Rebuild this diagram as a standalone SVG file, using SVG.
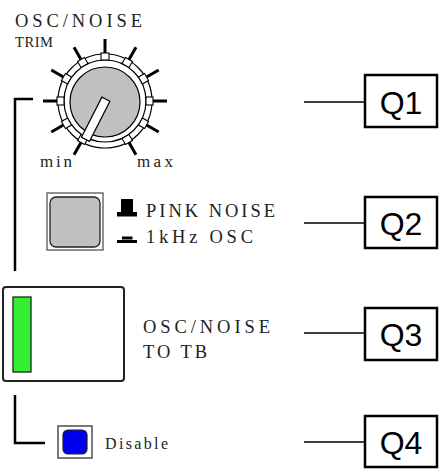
<svg xmlns="http://www.w3.org/2000/svg" width="445" height="474" viewBox="0 0 445 474">
<style>
.lbl{font-family:"Liberation Serif",serif;fill:#222}
.q{font-family:"Liberation Sans",Arial,sans-serif;font-size:32px;fill:#000;text-anchor:middle}
.qbox{fill:#fff;stroke:#000;stroke-width:2.5}
.conn{fill:none;stroke:#000;stroke-width:1.3}
.wire{fill:none;stroke:#000;stroke-width:2.5}
.tick{stroke:#000;stroke-width:3}
.blk{fill:#fff;stroke:#000;stroke-width:1.1}
</style>
<rect width="445" height="474" fill="#fff"/>
<g id="connectors">
  <polyline class="wire" points="33,99 15,99 15,271"/>
  <polyline class="wire" points="15,395 15,443 45,443"/>
  <line class="conn" x1="304" y1="102" x2="365" y2="102"/>
  <line class="conn" x1="304" y1="223" x2="365" y2="223"/>
  <line class="conn" x1="304" y1="333" x2="365" y2="333"/>
  <line class="conn" x1="304" y1="442" x2="365" y2="442"/>
</g>
<g id="trim-knob">
  <text class="lbl" x="15" y="26.5" font-size="18.5" textLength="127" lengthAdjust="spacing">OSC/NOISE</text>
  <text class="lbl" x="15" y="47" font-size="14.5" textLength="38" lengthAdjust="spacing">TRIM</text>
  <g id="ticks">
    <line class="tick" x1="105" y1="53" x2="105" y2="39" transform="rotate(0 105 101)"/>
    <line class="tick" x1="105" y1="53" x2="105" y2="39" transform="rotate(30 105 101)"/>
    <line class="tick" x1="105" y1="53" x2="105" y2="39" transform="rotate(60 105 101)"/>
    <line class="tick" x1="105" y1="53" x2="105" y2="39" transform="rotate(90 105 101)"/>
    <line class="tick" x1="105" y1="53" x2="105" y2="39" transform="rotate(120 105 101)"/>
    <line class="tick" x1="105" y1="53" x2="105" y2="39" transform="rotate(150 105 101)"/>
    <line class="tick" x1="105" y1="53" x2="105" y2="39" transform="rotate(210 105 101)"/>
    <line class="tick" x1="105" y1="53" x2="105" y2="39" transform="rotate(240 105 101)"/>
    <line class="tick" x1="105" y1="53" x2="105" y2="39" transform="rotate(270 105 101)"/>
    <line class="tick" x1="105" y1="53" x2="105" y2="39" transform="rotate(300 105 101)"/>
    <line class="tick" x1="105" y1="53" x2="105" y2="39" transform="rotate(330 105 101)"/>
  </g>
  <circle cx="105" cy="101" r="47" fill="#fff" stroke="#000" stroke-width="1.2"/>
  <circle cx="105" cy="101" r="41" fill="#fff" stroke="#000" stroke-width="1.2"/>
  <g id="blocks">
    <rect class="blk" x="101" y="53" width="8" height="7" transform="rotate(0 105 101)"/>
    <rect class="blk" x="101" y="53" width="8" height="7" transform="rotate(30 105 101)"/>
    <rect class="blk" x="101" y="53" width="8" height="7" transform="rotate(60 105 101)"/>
    <rect class="blk" x="101" y="53" width="8" height="7" transform="rotate(90 105 101)"/>
    <rect class="blk" x="101" y="53" width="8" height="7" transform="rotate(120 105 101)"/>
    <rect class="blk" x="101" y="53" width="8" height="7" transform="rotate(150 105 101)"/>
    <rect class="blk" x="101" y="53" width="8" height="7" transform="rotate(210 105 101)"/>
    <rect class="blk" x="101" y="53" width="8" height="7" transform="rotate(240 105 101)"/>
    <rect class="blk" x="101" y="53" width="8" height="7" transform="rotate(270 105 101)"/>
    <rect class="blk" x="101" y="53" width="8" height="7" transform="rotate(300 105 101)"/>
    <rect class="blk" x="101" y="53" width="8" height="7" transform="rotate(330 105 101)"/>
  </g>
  <circle cx="105" cy="102" r="35" fill="#c0c0c0" stroke="#000" stroke-width="1.2"/>
  <rect x="-4.5" y="-2" width="9" height="45" fill="#fff" stroke="#000" stroke-width="1.2" transform="translate(105 101) rotate(27)"/>
  <text class="lbl" x="40" y="167" font-size="17" textLength="32" lengthAdjust="spacing">min</text>
  <text class="lbl" x="137" y="167" font-size="17" textLength="36" lengthAdjust="spacing">max</text>
</g>
<g id="noise-button">
  <rect x="47" y="193" width="56" height="57" fill="#fff" stroke="#555" stroke-width="1.3"/>
  <rect x="50" y="197" width="50" height="50" rx="6" fill="#c0c0c0" stroke="#222" stroke-width="1.3"/>
  <rect x="121" y="199" width="12" height="13" fill="#000"/>
  <rect x="117" y="212" width="20" height="4.5" fill="#000"/>
  <rect x="122" y="236.5" width="10.5" height="3" fill="#000"/>
  <rect x="117" y="240" width="20" height="3" fill="#000"/>
  <text class="lbl" x="146" y="216.5" font-size="18.5" textLength="129" lengthAdjust="spacing">PINK NOISE</text>
  <text class="lbl" x="146" y="243" font-size="18.5" textLength="107" lengthAdjust="spacing">1kHz OSC</text>
</g>
<g id="to-tb-switch">
  <rect x="3" y="287" width="121" height="94" rx="3" fill="#fff" stroke="#222" stroke-width="2"/>
  <rect x="13" y="297" width="18" height="75" fill="#33ee33" stroke="#222" stroke-width="1.3"/>
  <text class="lbl" x="143" y="333" font-size="18.5" textLength="127" lengthAdjust="spacing">OSC/NOISE</text>
  <text class="lbl" x="143" y="358" font-size="18.5" textLength="64" lengthAdjust="spacing">TO TB</text>
</g>
<g id="disable-checkbox">
  <rect x="58" y="426" width="34" height="32" fill="#fff" stroke="#333" stroke-width="1.3"/>
  <rect x="63" y="430" width="24" height="24" rx="5" fill="#0000ee" stroke="#222" stroke-width="1.2"/>
  <text class="lbl" x="105" y="449" font-size="16" textLength="63" lengthAdjust="spacing">Disable</text>
</g>
<g id="Q1"><rect class="qbox" x="365" y="75" width="72" height="52"/><text class="q" x="401" y="114">Q1</text></g>
<g id="Q2"><rect class="qbox" x="365" y="197" width="72" height="51"/><text class="q" x="401" y="235">Q2</text></g>
<g id="Q3"><rect class="qbox" x="365" y="308" width="72" height="52"/><text class="q" x="401" y="346">Q3</text></g>
<g id="Q4"><rect class="qbox" x="365" y="416" width="72" height="51"/><text class="q" x="401" y="454">Q4</text></g>
</svg>
